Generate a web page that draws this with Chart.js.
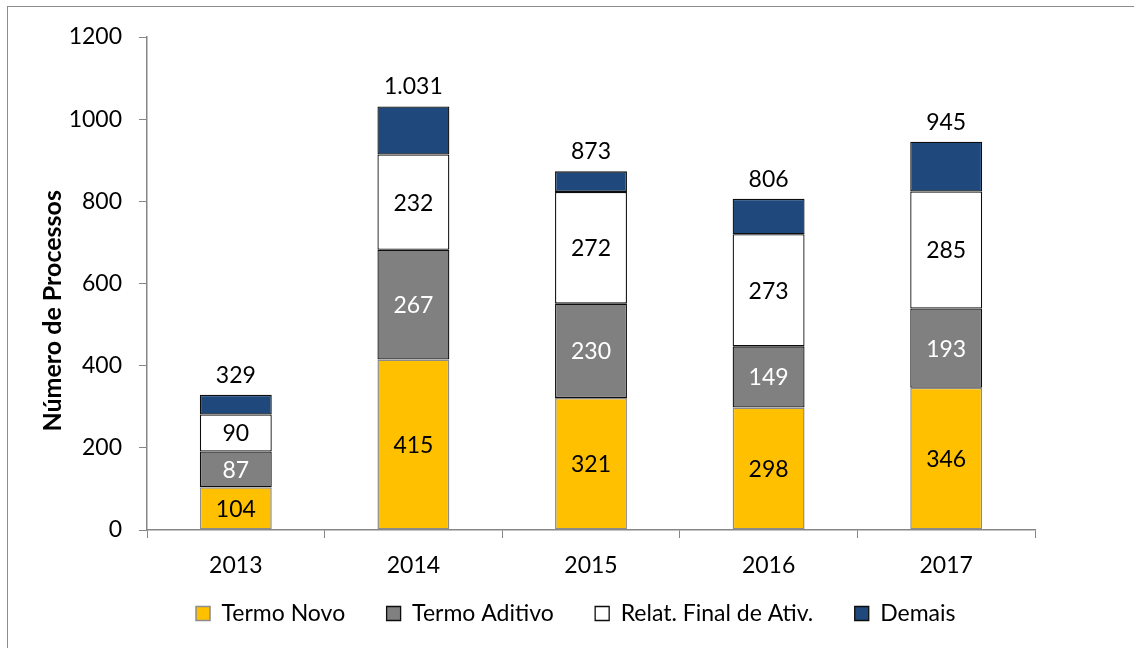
<!DOCTYPE html>
<html>
<head>
<meta charset="utf-8">
<script src="https://cdn.jsdelivr.net/npm/chart.js@4/dist/chart.umd.min.js"></script>
<style>
  html, body { margin: 0; padding: 0; background: #fff; }
  #wrap { position: relative; width: 1134px; height: 648px; overflow: hidden; }
  #frame { position: absolute; left: 7px; top: 6px; width: 1200px; height: 700px; border: 1px solid #8c8c8c; box-sizing: border-box; }
  canvas { position: absolute; left: 0; top: 0; }
</style>
</head>
<body>
<div id="wrap">
  <div id="frame"></div>
  <canvas id="chart" width="1134" height="648"></canvas>
</div>
<script>
// dados do gráfico
const anos = ['2013', '2014', '2015', '2016', '2017'];
const termoNovo = [104, 415, 321, 298, 346];
const termoAditivo = [87, 267, 230, 149, 193];
const relatFinal = [90, 232, 272, 273, 285];
const demais = [48, 117, 50, 86, 121];
const yTicks = [0, 200, 400, 600, 800, 1000, 1200];

const FONT = 'Lato, "Noto Sans", sans-serif';

// formata com ponto de milhar (1.031)
function fmt(n) {
    return String(n).replace(/\B(?=(\d{3})+(?!\d))/g, '.');
}

// rótulos dentro das barras e totais acima
const rotulos = {
    id: 'rotulos',
    afterLayout(chart) {
        // desloca a legenda para a direita, como no original
        chart.legend.left += 73;
        chart.legend.right += 73;
    },
    afterDatasetsDraw(chart) {
        const ctx = chart.ctx;
        const cores = ['#000', '#fff', '#000'];
        ctx.save();
        ctx.font = '23px ' + FONT;
        ctx.textAlign = 'center';
        ctx.textBaseline = 'middle';
        for (let d = 0; d < 3; d++) {
            const meta = chart.getDatasetMeta(d);
            meta.data.forEach((el, i) => {
                const p = el.getProps(['x', 'y', 'base'], true);
                ctx.fillStyle = cores[d];
                ctx.fillText(chart.data.datasets[d].data[i], p.x, (p.y + p.base) / 2 + 1);
            });
        }
        const topo = chart.getDatasetMeta(3);
        ctx.fillStyle = '#000';
        ctx.textBaseline = 'alphabetic';
        topo.data.forEach((el, i) => {
            const total = termoNovo[i] + termoAditivo[i] + relatFinal[i] + demais[i];
            ctx.fillText(fmt(total), el.x, el.y - 12);
        });
        ctx.restore();
    }
};

const borda = '#0d0d0d';

new Chart(document.getElementById('chart').getContext('2d'), {
    type: 'bar',
    data: {
        labels: anos,
        datasets: [
            { label: 'Termo Novo', data: termoNovo, backgroundColor: '#ffc000', borderColor: '#8c8c8c', borderWidth: 1.5 },
            { label: 'Termo Aditivo', data: termoAditivo, backgroundColor: '#808080', borderColor: borda, borderWidth: 1.3 },
            { label: 'Relat. Final de Ativ.', data: relatFinal, backgroundColor: '#ffffff', borderColor: borda, borderWidth: 1.3 },
            { label: 'Demais', data: demais, backgroundColor: '#1f497d', borderColor: borda, borderWidth: 1.3 }
        ]
    },
    options: {
        responsive: false,
        animation: false,
        events: [],
        layout: { padding: { top: 37, right: 99, left: 0, bottom: 13 } },
        datasets: {
            bar: { barPercentage: 0.405, categoryPercentage: 1, borderSkipped: false }
        },
        scales: {
            x: {
                stacked: true,
                grid: { drawOnChartArea: false, drawTicks: true, tickLength: 8, color: '#868686', offset: true },
                border: { display: true, color: '#868686', width: 1.5 },
                ticks: { color: '#000', font: { family: FONT, size: 23 }, padding: 14 },
                afterFit(s) { s.height = 60; }
            },
            y: {
                stacked: true,
                min: 0,
                max: 1200,
                afterBuildTicks(s) { s.ticks = yTicks.map(v => ({ value: v })); },
                grid: { drawOnChartArea: false, drawTicks: true, tickLength: 8, color: '#868686' },
                border: { display: true, color: '#868686', width: 1.5 },
                ticks: { color: '#000', font: { family: FONT, size: 23 }, padding: 17, callback: v => String(v) },
                title: {
                    display: true,
                    text: 'Número de Processos' + '\u00a0'.repeat(9),
                    color: '#000',
                    font: { family: FONT, size: 25, weight: 'bold' },
                    padding: { top: 38, bottom: 0 }
                },
                afterFit(s) { s.width = 147; }
            }
        },
        plugins: {
            legend: {
                position: 'bottom',
                labels: {
                    color: '#000',
                    font: { family: FONT, size: 23 },
                    boxWidth: 14,
                    boxHeight: 14,
                    padding: 12,
                    // espaço extra entre os itens da legenda
                    generateLabels(chart) {
                        const itens = Chart.defaults.plugins.legend.labels.generateLabels(chart);
                        itens.forEach(it => { it.text = it.text + '\u00a0'.repeat(5); });
                        return itens;
                    }
                }
            },
            tooltip: { enabled: false }
        }
    },
    plugins: [rotulos]
});
</script>
</body>
</html>
